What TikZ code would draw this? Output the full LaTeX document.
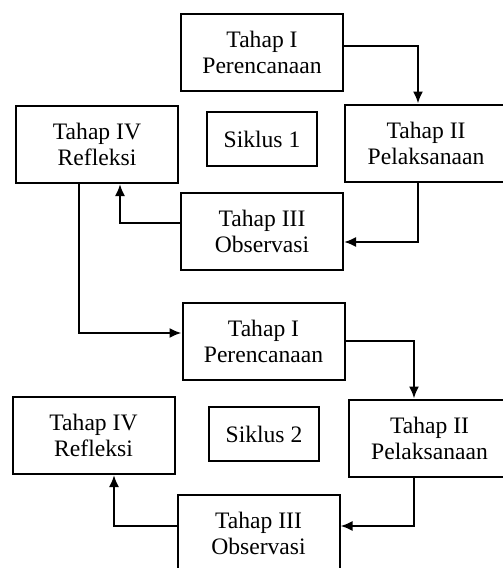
\documentclass[tikz,border=0pt]{standalone}
\usepackage{fontspec}
\setmainfont{Liberation Serif}
\usetikzlibrary{arrows.meta,positioning}

\begin{document}
\begin{tikzpicture}[x=0.5pt, y=-0.5pt,
    box/.style={draw, line width=1pt, align=center, inner sep=0pt,
        minimum width=81pt, minimum height=38.5pt,
        font=\fontsize{11.8pt}{13pt}\selectfont},
    cyclebox/.style={box, minimum width=55pt, minimum height=27pt},
    arr/.style={line width=1pt, -{Latex[length=6pt, width=5pt]}}]
    \useasboundingbox (0,0) rectangle (503,568);
    \clip (0,0) rectangle (503,568);
    % Siklus 1
    \node[box] (planA) at (262,52.5) {Tahap I\\Perencanaan};
    \node[box] (reflA) at (97,144.5) {Tahap IV\\Refleksi};
    \node[cyclebox] (cycA) at (262,139) {Siklus 1};
    \node[box] (actA) at (426,143) {Tahap II\\Pelaksanaan};
    \node[box] (obsA) at (262,231) {Tahap III\\Observasi};
    \draw[arr] ([yshift=3.25pt]planA.east) -| ([xshift=-4pt]actA.north);
    \draw[arr] ([xshift=-4pt]actA.south) |- ([yshift=-5.5pt]obsA.east);
    \draw[arr] ([yshift=4pt]obsA.west) -| ([xshift=11.5pt]reflA.south);
    % Siklus 2
    \node[box] (planB) at (263.5,341) {Tahap I\\Perencanaan};
    \node[box] (reflB) at (93.5,435.5) {Tahap IV\\Refleksi};
    \node[cyclebox] (cycB) at (264,434) {Siklus 2};
    \node[box] (actB) at (429.5,438) {Tahap II\\Pelaksanaan};
    \node[box] (obsB) at (258.5,533.5) {Tahap III\\Observasi};
    \draw[arr] (planB.east) -| ([xshift=-7.75pt]actB.north);
    \draw[arr] ([xshift=-8pt]actB.south) |- ([yshift=3.75pt]obsB.east);
    \draw[arr] ([yshift=3.75pt]obsB.west) -| ([xshift=10.25pt]reflB.south);
    % antar siklus
    \draw[arr] ([xshift=-9pt]reflA.south) |- ([yshift=4pt]planB.west);
\end{tikzpicture}
\end{document}
